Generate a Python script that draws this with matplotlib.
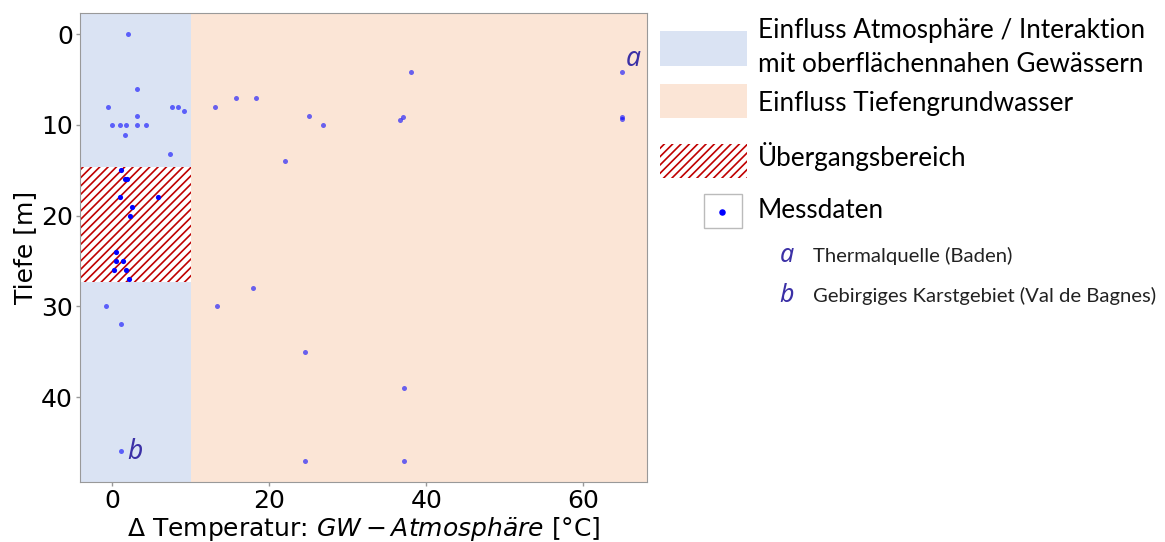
import numpy as np
import matplotlib
matplotlib.use("Agg")
import matplotlib.pyplot as plt
from matplotlib.patches import Rectangle

# Messdaten: Temperaturdifferenz GW - Atmosphaere [°C] und Tiefe [m]
delta_t = np.array([
    2.0, 3.2, -0.5, 7.6, 8.4, 9.1, 3.2, 0.0, 1.0, 1.8, 3.2, 4.3, 1.6, 7.3,
    1.1, 1.6, 1.9, 1.0, 5.8, 2.5, 2.3, 0.5, 0.5, 1.4, 0.2, 1.8, 2.1,
    -0.8, 1.1, 1.1,
    13.1, 15.8, 18.3, 25.1, 26.9, 22.0, 38.0, 37.0, 36.6,
    17.9, 13.4, 24.6, 37.1, 24.5, 37.1,
    64.9, 64.9, 64.9,
])
tiefe = np.array([
    0.0, 6.0, 8.0, 8.0, 8.0, 8.5, 9.0, 10.0, 10.0, 10.0, 10.0, 10.0, 11.1, 13.2,
    15.0, 16.0, 16.0, 18.0, 18.0, 19.0, 20.0, 24.0, 25.0, 25.0, 26.0, 26.0, 27.0,
    30.0, 32.0, 46.0,
    8.0, 7.0, 7.0, 9.0, 10.0, 14.0, 4.2, 9.1, 9.5,
    28.0, 30.0, 35.0, 39.0, 47.0, 47.0,
    4.2, 9.1, 9.4,
])

# Bereiche
grenze_atm = 10.0           # Grenze Einfluss Atmosphaere / Tiefengrundwasser
uebergang = (14.6, 27.3)    # Tiefenbereich Uebergang
x_lim = (-4.1, 68.1)
y_lim = (49.4, -2.3)

# Markierungen a / b
marker_labels = ["a", "b"]
marker_x = [66.3, 2.9]
marker_y = [2.7, 46.1]

legend_labels = [
    "Einfluss Atmosphäre / Interaktion\nmit oberflächennahen Gewässern",
    "Einfluss Tiefengrundwasser",
    "Übergangsbereich",
    "Messdaten",
]
legend_notes = ["Thermalquelle (Baden)", "Gebirgiges Karstgebiet (Val de Bagnes)"]

c_atm = "#dae3f3"
c_tief = "#fbe5d6"
c_hatch = "#c00000"
c_label = "#3b30a6"

plt.rcParams["hatch.linewidth"] = 1.2

fig = plt.figure(figsize=(11.65, 5.42), dpi=100)
ax = fig.add_axes([0.0687, 0.1101, 0.4867, 0.8654])

ax.axvspan(-100, grenze_atm, color=c_atm, lw=0, zorder=0)
ax.axvspan(grenze_atm, 200, color=c_tief, lw=0, zorder=0)
ax.add_patch(Rectangle((x_lim[0], uebergang[0]), grenze_atm - x_lim[0],
                       uebergang[1] - uebergang[0], facecolor="white",
                       edgecolor=c_hatch, hatch="////", lw=0, zorder=1))

im_uebergang = (tiefe >= uebergang[0]) & (tiefe <= uebergang[1]) & (delta_t < grenze_atm)
ax.scatter(delta_t[~im_uebergang], tiefe[~im_uebergang], s=13, color="blue",
           alpha=0.58, lw=0, zorder=3)
ax.scatter(delta_t[im_uebergang], tiefe[im_uebergang], s=14, color="blue",
           lw=0, zorder=3)

for lab, mx, my in zip(marker_labels, marker_x, marker_y):
    ax.text(mx, my, lab, fontsize=19, style="italic", family="Noto Sans",
            color=c_label, ha="center", va="center", zorder=4)

ax.set_xlim(*x_lim)
ax.set_ylim(*y_lim)
ax.set_xticks([0, 20, 40, 60])
ax.set_yticks([0, 10, 20, 30, 40])
ax.tick_params(labelsize=18, length=3, width=1, color="#999999", pad=2)
for sp in ax.spines.values():
    sp.set_color("#999999")
ax.set_xlabel("Δ Temperatur: $GW - Atmosphäre$ [°C]", fontsize=18, labelpad=1)
ax.set_ylabel("Tiefe [m]", fontsize=18, labelpad=3)

# Legende rechts (Pixelkoordinaten)
lg = fig.add_axes([0, 0, 1, 1], zorder=-1)
lg.set_xlim(0, 1165)
lg.set_ylim(542, 0)
lg.axis("off")

lg.add_patch(Rectangle((660, 31), 87, 35, color=c_atm, lw=0))
lg.add_patch(Rectangle((660, 84), 87, 34, color=c_tief, lw=0))
lg.add_patch(Rectangle((660, 144), 87, 34, facecolor="white", edgecolor=c_hatch,
                       hatch="////", lw=0))
lg.add_patch(Rectangle((704, 194), 38, 34, facecolor="white", edgecolor="#bbbbbb", lw=1))
lg.scatter([722], [212], s=22, color="blue", lw=0)

font_leg = dict(family="Lato", fontsize=18.8, color="black", va="baseline")
lg.text(758, 38, legend_labels[0].split("\n")[0], **font_leg)
lg.text(758, 72, legend_labels[0].split("\n")[1], **font_leg)
lg.text(758, 111, legend_labels[1], **font_leg)
lg.text(758, 166, legend_labels[2], **font_leg)
lg.text(758, 218, legend_labels[3], **font_leg)

for i, (lab, note) in enumerate(zip(marker_labels, legend_notes)):
    yb = 262 + i * 40
    lg.text(787, yb, lab, fontsize=18, style="italic", family="Noto Sans",
            color=c_label, ha="center", va="baseline")
    lg.text(813, yb, note, family="Lato", fontsize=14.6, color="#222222", va="baseline")

fig.savefig("out.png", dpi=100)
